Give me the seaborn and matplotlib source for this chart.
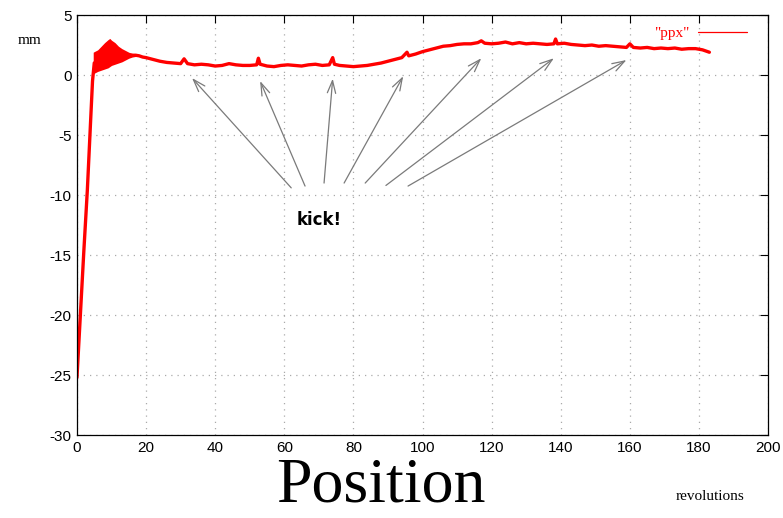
import pandas as pd
import matplotlib.pyplot as plt
import seaborn as sns

# position of the beam (mm) against revolutions
revs = [0, 1, 2, 3, 4, 4.5, 5, 6, 7, 8, 9, 9.5, 10, 11, 12, 13, 14, 15, 16, 17, 18, 19, 20,
        22, 24, 26, 28, 30, 31, 32, 34, 36, 38, 40, 42, 44, 46, 48, 50, 52, 52.5, 53, 55, 57,
        59, 61, 63, 65, 67, 69, 71, 73, 74, 74.5, 76, 78, 80, 82, 84, 86, 88, 90, 92, 94, 95.5,
        96, 98, 100, 102, 104, 106, 108, 110, 112, 114, 116, 117, 118, 120, 122, 124, 126, 128,
        130, 132, 134, 136, 138, 138.5, 139, 141, 143, 145, 147, 149, 151, 153, 155, 157, 159,
        160, 161, 163, 165, 167, 169, 171, 173, 175, 177, 179, 181, 183]
ppx = [-25.2, -19.9, -14.6, -9.6, -3.5, -0.5, 1.0, 1.2, 1.4, 1.6, 1.8, 1.9, 1.85, 1.8, 1.7,
       1.65, 1.65, 1.65, 1.65, 1.65, 1.6, 1.5, 1.45,
       1.3, 1.15, 1.05, 1.0, 0.95, 1.35, 0.95, 0.85, 0.9, 0.85, 0.75, 0.8, 0.95, 0.85, 0.8, 0.8,
       0.85, 1.4, 0.9, 0.75, 0.7,
       0.8, 0.85, 0.8, 0.75, 0.85, 0.9, 0.8, 0.85, 1.45, 0.9, 0.8, 0.75, 0.7, 0.75, 0.8, 0.9,
       1.0, 1.15, 1.3, 1.45, 1.9,
       1.6, 1.75, 1.95, 2.1, 2.25, 2.4, 2.45, 2.55, 2.6, 2.6, 2.7, 2.85, 2.65, 2.6, 2.65, 2.75,
       2.6, 2.7,
       2.6, 2.65, 2.6, 2.55, 2.6, 3.0, 2.6, 2.65, 2.55, 2.5, 2.45, 2.5, 2.4, 2.45, 2.4, 2.35,
       2.3,
       2.6, 2.3, 2.25, 2.3, 2.2, 2.25, 2.2, 2.25, 2.15, 2.2, 2.2, 2.1, 1.9]

# envelope of the fast oscillation just after injection
band_x = [4.7, 5, 6, 7, 8, 9, 9.5, 10, 11, 12, 13, 14, 15, 16, 17]
band_top = [1.9, 1.95, 2.1, 2.4, 2.7, 2.95, 3.05, 2.9, 2.7, 2.4, 2.2, 2.05, 1.9, 1.8, 1.7]
band_bot = [0.1, 0.15, 0.3, 0.4, 0.5, 0.6, 0.7, 0.8, 0.9, 1.0, 1.1, 1.25, 1.4, 1.5, 1.55]

# kick arrows: start (near the label) and end (on the curve)
kick_from_x = [62, 66, 71.5, 77.3, 83.4, 89.4, 95.8]
kick_from_y = [-9.4, -9.25, -9.0, -9.0, -9.0, -9.2, -9.25]
kick_to_x = [33.3, 53, 74, 94.4, 117, 138, 159]
kick_to_y = [-0.25, -0.5, -0.3, -0.1, 1.4, 1.4, 1.25]

df = pd.DataFrame({'revs': revs, 'ppx': ppx})

sns.set_style('white')
plt.rcParams['font.family'] = ['Liberation Sans', 'DejaVu Sans']
plt.rcParams['axes.unicode_minus'] = False
plt.rcParams['text.color'] = 'black'
plt.rcParams['xtick.color'] = 'black'
plt.rcParams['ytick.color'] = 'black'

fig = plt.figure(figsize=(7.83, 5.18), dpi=100)
ax = fig.add_axes([0.0983, 0.160, 0.8827, 0.811])

sns.lineplot(data=df, x='revs', y='ppx', color='red', linewidth=2.4, label='"ppx"', ax=ax)
ax.fill_between(band_x, band_bot, band_top, color='red', linewidth=0)

for x0, y0, x1, y1 in zip(kick_from_x, kick_from_y, kick_to_x, kick_to_y):
    ax.annotate('', xy=(x1, y1), xytext=(x0, y0),
                arrowprops=dict(arrowstyle='->,head_length=0.9,head_width=0.3',
                                color='#7a7a7a', lw=0.9, shrinkA=0, shrinkB=0))
ax.text(70, -12.1, 'kick!', ha='center', va='center', fontsize=12, fontweight='bold',
        color='black', family=['DejaVu Sans'])

ax.set_xlim(0, 200)
ax.set_ylim(-30, 5)
ax.set_xticks(range(0, 201, 20))
ax.set_yticks(range(-30, 6, 5))
ax.grid(True, color='#aaaaaa', linestyle=(0, (1, 4)), linewidth=0.9)
ax.tick_params(direction='in', length=6, width=0.8, top=True, right=True,
               labelsize=11, pad=4, labelcolor='black')
for s in ax.spines.values():
    s.set_color('black')
    s.set_linewidth(0.9)
ax.set_xlabel('')
ax.set_ylabel('')

leg = ax.legend(loc='upper right', frameon=False, markerfirst=False, handlelength=3.2,
                prop={'family': 'Liberation Serif', 'size': 11},
                bbox_to_anchor=(0.983, 0.995), borderaxespad=0.2, handletextpad=0.6)
for t in leg.get_texts():
    t.set_color('red')
for h in leg.get_lines():
    h.set_linewidth(0.9)

fig.text(30 / 783, 1 - 40 / 518, 'mm', ha='center', va='center', fontsize=11,
         color='black', family='Liberation Serif')
fig.text(710 / 783, 1 - 497 / 518, 'revolutions', ha='center', va='center', fontsize=11,
         color='black', family='Liberation Serif')
fig.text(381 / 783, 1 - 516 / 518, 'Position', ha='center', va='bottom', fontsize=46,
         color='black', family='Liberation Serif')

fig.savefig('out.png', dpi=100)
